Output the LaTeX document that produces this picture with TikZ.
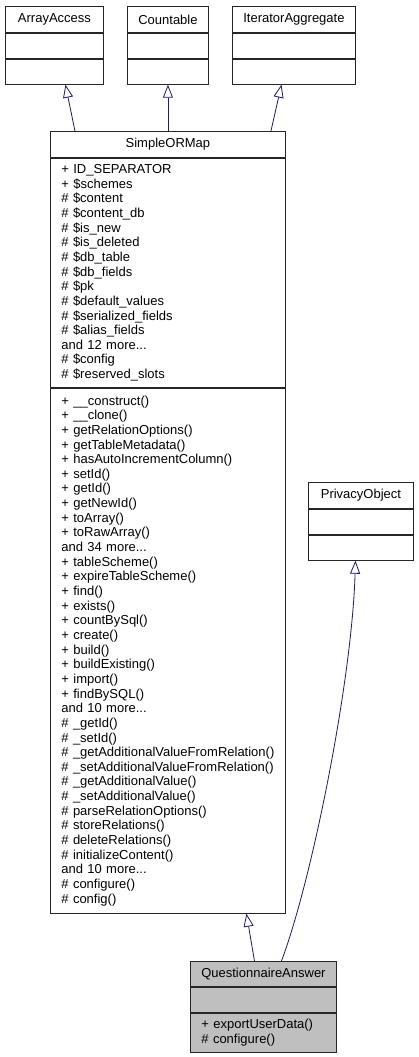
\documentclass[tikz,border=0pt]{standalone}
\usepackage{fontspec}
\setmainfont{Liberation Sans}
\usetikzlibrary{positioning,arrows.meta}
\definecolor{edgeblue}{HTML}{191970}

\begin{document}
\begin{tikzpicture}[x=1pt,y=-1pt,
  		umlpart/.style={draw=black!85,line width=0.9pt,fill=white,inner sep=0pt,
    		font=\fontsize{13}{14.65}\selectfont},
  		umltitle/.style={umlpart,minimum height=26,align=center},
  		umlempty/.style={umlpart,minimum height=25},
  		umllist/.style={umlpart,align=left,inner xsep=11pt},
  		inherit/.style={draw=edgeblue,line width=0.8pt,
    		-{Triangle[length=13pt,width=10pt,fill=white,line width=0.8pt]}}]
    		\useasboundingbox (0,0) rectangle (418,1057);
    		% Interfaces on top
      		\node[umltitle,minimum width=98,anchor=north west] (arrayaccess) at (5,6) {ArrayAccess};
      		\node[umlempty,minimum width=98,below=0pt of arrayaccess] (arrayaccess-attr) {};
      		\node[umlempty,minimum width=98,below=0pt of arrayaccess-attr] (arrayaccess-ops) {};
      		\node[umltitle,minimum width=81,anchor=north west] (countable) at (127,6) {Countable};
      		\node[umlempty,minimum width=81,below=0pt of countable] (countable-attr) {};
      		\node[umlempty,minimum width=81,below=0pt of countable-attr] (countable-ops) {};
      		\node[umltitle,minimum width=123,anchor=north west] (iteragg) at (232,6) {IteratorAggregate};
      		\node[umlempty,minimum width=123,below=0pt of iteragg] (iteragg-attr) {};
      		\node[umlempty,minimum width=123,below=0pt of iteragg-attr] (iteragg-ops) {};
    		% Base class
      		\node[umltitle,minimum width=235,anchor=north west] (sorm) at (50,131) {SimpleORMap};
      		\node[umllist,text width=213,minimum height=229,below=0pt of sorm] (sorm-attr) {%
			+ ID\_SEPARATOR\\
			+ \$schemes\\
			\# \$content\\
			\# \$content\_db\\
			\# \$is\_new\\
			\# \$is\_deleted\\
			\# \$db\_table\\
			\# \$db\_fields\\
			\# \$pk\\
			\# \$default\_values\\
			\# \$serialized\_fields\\
			\# \$alias\_fields\\
			and 12 more...\\
			\# \$config\\
			\# \$reserved\_slots};
      		\node[umllist,text width=213,minimum height=525,below=0pt of sorm-attr] (sorm-ops) {%
			+ \_\_construct()\\
			+ \_\_clone()\\
			+ getRelationOptions()\\
			+ getTableMetadata()\\
			+ hasAutoIncrementColumn()\\
			+ setId()\\
			+ getId()\\
			+ getNewId()\\
			+ toArray()\\
			+ toRawArray()\\
			and 34 more...\\
			+ tableScheme()\\
			+ expireTableScheme()\\
			+ find()\\
			+ exists()\\
			+ countBySql()\\
			+ create()\\
			+ build()\\
			+ buildExisting()\\
			+ import()\\
			+ findBySQL()\\
			and 10 more...\\
			\# \_getId()\\
			\# \_setId()\\
			\# \_getAdditionalValueFromRelation()\\
			\# \_setAdditionalValueFromRelation()\\
			\# \_getAdditionalValue()\\
			\# \_setAdditionalValue()\\
			\# parseRelationOptions()\\
			\# storeRelations()\\
			\# deleteRelations()\\
			\# initializeContent()\\
			and 10 more...\\
			\# configure()\\
			\# config()};
    		% Second parent
      		\node[umltitle,minimum width=105,anchor=north west] (privacy) at (308,482) {PrivacyObject};
      		\node[umlempty,minimum width=105,below=0pt of privacy] (privacy-attr) {};
      		\node[umlempty,minimum width=105,below=0pt of privacy-attr] (privacy-ops) {};
    		% Derived class
      		\node[umltitle,minimum width=146,minimum height=25,fill=black!25,anchor=north west] (qa) at (190,961) {QuestionnaireAnswer};
      		\node[umlempty,minimum width=146,fill=black!25,below=0pt of qa] (qa-attr) {};
      		\node[umllist,text width=124,minimum height=39,fill=black!25,below=0pt of qa-attr] (qa-ops) {%
			+ exportUserData()\\
			\# configure()};
    		% Inheritance
      		\draw[inherit] ([xshift=-93]sorm.north) -- ([xshift=11]arrayaccess-ops.south);
      		\draw[inherit] (sorm.north -| countable-ops.south) -- (countable-ops.south);
      		\draw[inherit] ([xshift=103]sorm.north) -- ([xshift=-12.5]iteragg-ops.south);
      		\draw[inherit] ([xshift=-9]qa.north) -- ([xshift=78.5]sorm-ops.south);
      		\draw[inherit] ([xshift=18]qa.north) .. controls (312,880) and (352,680) .. ([xshift=-5.5]privacy-ops.south);
	\end{tikzpicture}
\end{document}
